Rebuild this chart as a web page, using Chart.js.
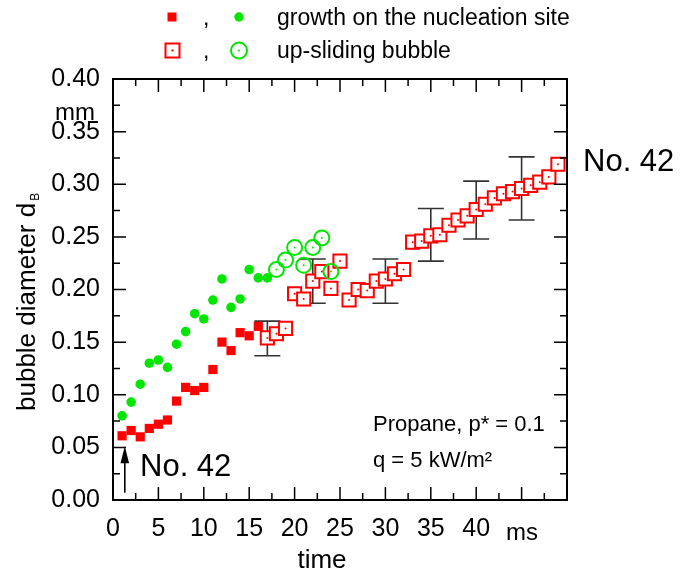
<!DOCTYPE html>
<html>
<head>
<meta charset="utf-8">
<script src="https://cdn.jsdelivr.net/npm/chart.js@4.4.1/dist/chart.umd.min.js"></script>
<style>
  body { margin: 0; background: #fff; }
</style>
</head>
<body>
<canvas id="chart" width="691" height="575"></canvas>
<script>
// time in ms, bubble diameter in mm
const tGrowthRed = [1, 2, 3, 4, 5, 6, 7, 8, 9, 10, 11, 12, 13, 14, 15, 16];
const dGrowthRed = [0.061, 0.066, 0.060, 0.068, 0.072, 0.076, 0.094, 0.107, 0.104, 0.107,
                    0.124, 0.150, 0.142, 0.159, 0.156, 0.165];
const tGrowthGreen = [1, 2, 3, 4, 5, 6, 7, 8, 9, 10, 11, 12, 13, 14, 15, 16, 17];
const dGrowthGreen = [0.080, 0.093, 0.110, 0.130, 0.133, 0.126, 0.148, 0.160, 0.177, 0.172,
                      0.190, 0.210, 0.183, 0.191, 0.219, 0.211, 0.211];
const tSlideRed = [17, 18, 19, 20, 21, 22, 23, 24, 25, 26, 27, 28, 29, 30, 31, 32, 33,
                   34, 35, 36, 37, 38, 39, 40, 41, 42, 43, 44, 45, 46, 47, 48, 49];
const dSlideRed = [0.154, 0.158, 0.163, 0.196, 0.191, 0.208, 0.217, 0.201, 0.227, 0.190,
                   0.200, 0.199, 0.208, 0.210, 0.215, 0.219, 0.245, 0.246, 0.251, 0.252,
                   0.261, 0.266, 0.270, 0.276, 0.281, 0.287, 0.291, 0.293, 0.296, 0.299,
                   0.302, 0.307, 0.319];
const tSlideGreen = [18, 19, 20, 21, 22, 23, 24];
const dSlideGreen = [0.219, 0.228, 0.240, 0.223, 0.240, 0.249, 0.217];

// error bars
const errT = [17, 22, 30, 35, 40, 45];
const errLow = [0.137, 0.187, 0.187, 0.227, 0.248, 0.266];
const errHigh = [0.170, 0.229, 0.229, 0.277, 0.303, 0.326];

const xTickLabels = ['0', '5', '10', '15', '20', '25', '30', '35', '40', '', ''];

// arrow pointing at the start (No. 42)
const arrowT = 1.3;
const arrowFrom = 0.007;
const arrowTo = 0.051;

const RED = '#ff0000';
const GREEN = '#00e600';
const FONT = '"Liberation Sans", Arial, sans-serif';

const toXY = (xs, ys) => xs.map((x, i) => ({ x: x, y: ys[i] }));

// error bars under the points
const errorBars = {
    id: 'errorBars',
    beforeDatasetsDraw(chart) {
        const { ctx, scales: { x, y } } = chart;
        ctx.save();
        ctx.strokeStyle = '#333';
        ctx.lineWidth = 1.6;
        errT.forEach((t, i) => {
            const px = x.getPixelForValue(t);
            const y1 = y.getPixelForValue(errLow[i]);
            const y2 = y.getPixelForValue(errHigh[i]);
            ctx.beginPath();
            ctx.moveTo(px, y1); ctx.lineTo(px, y2);
            ctx.moveTo(px - 13, y1); ctx.lineTo(px + 13, y1);
            ctx.moveTo(px - 13, y2); ctx.lineTo(px + 13, y2);
            ctx.stroke();
        });
        ctx.restore();
    }
};

// box with inward ticks on all sides
const frame = {
    id: 'frame',
    afterDatasetsDraw(chart) {
        const { ctx, chartArea: a, scales: { x, y } } = chart;
        ctx.save();
        ctx.strokeStyle = '#000';
        ctx.lineWidth = 1.5;
        ctx.beginPath();
        for (let i = 0; i <= 20; i++) {
            const px = x.getPixelForValue(i * 2.5);
            const len = i % 2 === 0 ? 13 : 7;
            ctx.moveTo(px, a.bottom); ctx.lineTo(px, a.bottom - len);
            ctx.moveTo(px, a.top); ctx.lineTo(px, a.top + len);
        }
        for (let i = 0; i <= 16; i++) {
            const py = y.getPixelForValue(i * 0.025);
            const len = i % 2 === 0 ? 13 : 7;
            ctx.moveTo(a.left, py); ctx.lineTo(a.left + len, py);
            ctx.moveTo(a.right, py); ctx.lineTo(a.right - len, py);
        }
        ctx.stroke();
        ctx.lineWidth = 2;
        ctx.strokeRect(a.left, a.top, a.right - a.left, a.bottom - a.top);
        ctx.restore();
    }
};

// legend, labels and notes
const notes = {
    id: 'notes',
    afterDraw(chart) {
        const { ctx, scales: { x, y } } = chart;
        ctx.save();
        ctx.fillStyle = '#000';
        ctx.textBaseline = 'alphabetic';

        // legend symbols
        ctx.fillStyle = RED;
        ctx.fillRect(167.5, 12.5, 9, 9);
        ctx.fillStyle = GREEN;
        ctx.beginPath(); ctx.arc(239, 17, 4.7, 0, Math.PI * 2); ctx.fill();
        ctx.lineWidth = 2;
        ctx.strokeStyle = RED;
        ctx.strokeRect(165.5, 43.5, 14, 14);
        ctx.fillStyle = RED;
        ctx.fillRect(171.5, 49.5, 2, 2);
        ctx.strokeStyle = GREEN;
        ctx.beginPath(); ctx.arc(239, 50.5, 8, 0, Math.PI * 2); ctx.stroke();
        ctx.fillStyle = GREEN;
        ctx.beginPath(); ctx.arc(239, 50.5, 1, 0, Math.PI * 2); ctx.fill();

        ctx.fillStyle = '#000';
        ctx.font = '23px ' + FONT;
        ctx.fillText(',', 203, 25);
        ctx.fillText(',', 203, 58);
        ctx.fillText('growth on the nucleation site', 277, 25);
        ctx.fillText('up-sliding bubble', 277, 58);

        // units
        ctx.font = '24px ' + FONT;
        ctx.textAlign = 'center';
        ctx.fillText('mm', 75, 120);
        ctx.fillText('ms', 522, 540);
        ctx.font = '26px ' + FONT;
        ctx.fillText('time', 322, 568);

        // y title
        ctx.save();
        ctx.translate(35, 411);
        ctx.rotate(-Math.PI / 2);
        ctx.textAlign = 'left';
        ctx.font = '26px ' + FONT;
        const title = 'bubble diameter d';
        ctx.fillText(title, 0, 0);
        const w = ctx.measureText(title).width;
        ctx.font = '12px ' + FONT;
        ctx.fillText('B', w + 2, 4);
        ctx.restore();

        // No. 42 labels
        ctx.textAlign = 'left';
        ctx.font = '31px ' + FONT;
        ctx.fillText('No. 42', 140, 476);
        ctx.fillText('No. 42', 583, 171);

        // property notes
        ctx.font = '22px ' + FONT;
        ctx.fillText('Propane, p* = 0.1', 373, 431);
        ctx.fillText('q = 5 kW/m\u00b2', 373, 467);

        // arrow
        const ax = x.getPixelForValue(arrowT);
        const ay1 = y.getPixelForValue(arrowFrom);
        const ay2 = y.getPixelForValue(arrowTo);
        ctx.strokeStyle = '#000';
        ctx.lineWidth = 1.6;
        ctx.beginPath();
        ctx.moveTo(ax, ay1); ctx.lineTo(ax, ay2 + 12);
        ctx.stroke();
        ctx.beginPath();
        ctx.moveTo(ax, ay2);
        ctx.lineTo(ax - 4.3, ay2 + 17);
        ctx.lineTo(ax + 4.3, ay2 + 17);
        ctx.closePath();
        ctx.fill();
        ctx.restore();
    }
};

new Chart(document.getElementById('chart'), {
    type: 'scatter',
    data: {
        datasets: [
            {   // centre dots of the up-sliding symbols
                data: toXY(tSlideGreen, dSlideGreen),
                pointStyle: 'circle', pointRadius: 1,
                backgroundColor: GREEN, borderWidth: 0
            },
            {
                data: toXY(tSlideRed, dSlideRed),
                pointStyle: 'circle', pointRadius: 1,
                backgroundColor: RED, borderWidth: 0
            },
            {
                label: 'up-sliding bubble (green)',
                data: toXY(tSlideGreen, dSlideGreen),
                pointStyle: 'circle', pointRadius: 7.5,
                backgroundColor: 'rgba(255,255,255,0)', borderColor: GREEN, borderWidth: 2
            },
            {
                label: 'up-sliding bubble (red)',
                data: toXY(tSlideRed, dSlideRed),
                pointStyle: 'rect', pointRadius: 9.3,
                backgroundColor: '#fff', borderColor: RED, borderWidth: 2
            },
            {
                label: 'growth on the nucleation site (green)',
                data: toXY(tGrowthGreen, dGrowthGreen),
                pointStyle: 'circle', pointRadius: 4.8,
                backgroundColor: GREEN, borderWidth: 0
            },
            {
                label: 'growth on the nucleation site (red)',
                data: toXY(tGrowthRed, dGrowthRed),
                pointStyle: 'rect', pointRadius: 6.5,
                backgroundColor: RED, borderWidth: 0
            }
        ]
    },
    options: {
        responsive: false,
        animation: false,
        layout: { padding: { left: 0, top: 79, right: 124, bottom: 0 } },
        plugins: { legend: { display: false }, tooltip: { enabled: false } },
        scales: {
            x: {
                type: 'linear', min: 0, max: 50,
                grid: { display: false, drawTicks: false },
                border: { display: false },
                afterFit: (s) => { s.height = 75; },
                ticks: {
                    stepSize: 5, padding: 14, color: '#000',
                    maxRotation: 0, autoSkip: false,
                    font: { family: FONT, size: 25 },
                    callback: (v) => xTickLabels[Math.round(v / 5)]
                }
            },
            y: {
                type: 'linear', min: 0, max: 0.40,
                grid: { display: false, drawTicks: false },
                border: { display: false },
                afterFit: (s) => { s.width = 113; },
                ticks: {
                    stepSize: 0.05, padding: 13, color: '#000',
                    font: { family: FONT, size: 25 },
                    callback: (v) => v.toFixed(2)
                }
            }
        }
    },
    plugins: [errorBars, frame, notes]
});
</script>
</body>
</html>
